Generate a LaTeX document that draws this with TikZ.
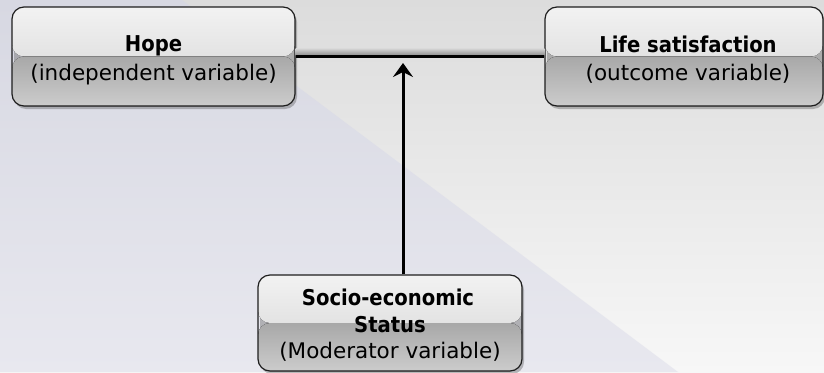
\documentclass[tikz,border=0pt]{standalone}
\usepackage{fontspec}
\setmainfont{DejaVu Sans}
\newfontfamily\condfont{DejaVu Sans Condensed}
\usetikzlibrary{arrows.meta,shadows}
\definecolor{bgtop}{HTML}{DCDCDC}
\definecolor{bgbot}{HTML}{F7F7F7}
\definecolor{lavtop}{HTML}{D7D8E2}
\definecolor{lavbot}{HTML}{E8E8EF}
\definecolor{hitop}{HTML}{F2F2F2}
\definecolor{himid}{HTML}{D4D4D4}
\definecolor{lomid}{HTML}{A8A8A8}
\definecolor{lobot}{HTML}{CCCCCC}
\definecolor{edge}{HTML}{1E1E1E}
\definecolor{bandtop}{HTML}{DADADA}
\definecolor{bandbot}{HTML}{8C8C8C}
\tikzset{
  glossbox/.style={
    draw=edge, line width=1.2pt, rounded corners=12pt, inner sep=0pt,
    drop shadow={shadow xshift=2pt, shadow yshift=-3pt, opacity=0.35, fill=black!70},
    path picture={
      \fill[top color=hitop, bottom color=himid]
        (path picture bounding box.north west) rectangle (path picture bounding box.east);
      \fill[top color=lomid, bottom color=lobot]
        (path picture bounding box.west) rectangle (path picture bounding box.south east);
    }
  },
  titletext/.style={anchor=base, inner sep=0pt, text=black, font=\condfont\bfseries\fontsize{21.8}{26}\selectfont},
  subtext/.style={anchor=base, inner sep=0pt, text=black, font=\fontsize{21.5}{26}\selectfont},
  link/.style={line width=3pt, draw=black},
  modarrow/.style={line width=3pt, draw=black, -{Stealth[length=14pt,width=20pt,inset=5pt]}}
}
\begin{document}
\begin{tikzpicture}[x=1pt,y=-1pt]
  \useasboundingbox (0,0) rectangle (824,372);
  % background
  \shade[top color=bgtop, bottom color=bgbot] (0,0) rectangle (824,372);
  \shade[top color=lavtop, bottom color=lavbot] (0,0) -- (182,0) -- (678,372) -- (0,372) -- cycle;
  % boxes
  \node[glossbox, minimum width=283pt, minimum height=99pt] (hope) at (153.5,56.5) {};
  \node[glossbox, minimum width=278pt, minimum height=99pt] (life) at (684,56.5) {};
  \node[glossbox, minimum width=264pt, minimum height=96pt] (ses) at (390,323) {};
  % texts
  \node[titletext] (hope1) at (153.5,51.5) {Hope};
  \node[subtext]   (hope2) at (153.5,80.5) {(independent variable)};
  \node[titletext] (life1) at (688,52) {Life satisfaction};
  \node[subtext]   (life2) at (688,80.5) {(outcome variable)};
  \node[titletext] (ses1) at (388,305) {Socio-economic};
  \node[titletext] (ses2) at (390,332) {Status};
  \node[subtext]   (ses3) at (390,358.5) {(Moderator variable)};
  % connectors
  \shade[top color=bandtop, bottom color=bandbot] (hope.north east |- 0,48) rectangle (life.north west |- 0,55.5);
  \draw[link] (hope.east) -- (life.west);
  \coordinate (tip) at (403,63);
  \draw[modarrow] (tip |- ses.north) -- (tip);
\end{tikzpicture}
\end{document}
